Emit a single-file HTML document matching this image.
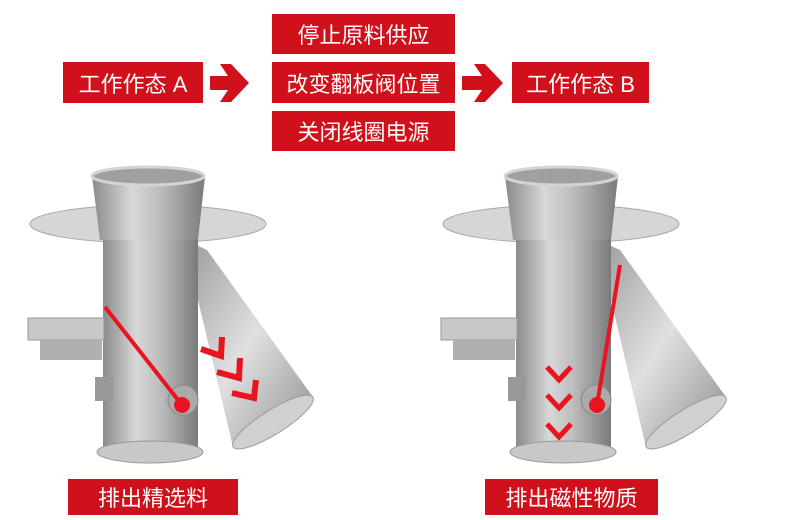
<!DOCTYPE html>
<html><head><meta charset="utf-8"><style>
html,body{margin:0;padding:0;background:#fff;width:800px;height:520px;overflow:hidden}
.b{position:absolute;background:#d0111b;color:#fff;font-family:"Liberation Sans","Noto Sans CJK SC",sans-serif;font-size:22px;display:flex;align-items:center;justify-content:center;white-space:nowrap}
svg{position:absolute;left:0;top:0}
</style></head><body>
<svg width="800" height="520" viewBox="0 0 800 520">
<defs>
<linearGradient id="g" x1="0" x2="1" y1="0" y2="0">
<stop offset="0" stop-color="#8a8a8a"/><stop offset="0.35" stop-color="#d8d8d8"/><stop offset="0.6" stop-color="#bdbdbd"/><stop offset="1" stop-color="#7a7a7a"/></linearGradient>
<linearGradient id="g2" x1="0" x2="1" y1="0" y2="1">
<stop offset="0" stop-color="#9a9a9a"/><stop offset="0.5" stop-color="#e0e0e0"/><stop offset="1" stop-color="#8e8e8e"/></linearGradient>
<g id="valve">
<ellipse cx="148" cy="224" rx="118" ry="19" fill="#d6d6d6" stroke="#a8a8a8"/>
<path d="M185 240 L207 250 L313 397 L233 447 L198 300 Z" fill="url(#g2)"/>
<ellipse cx="273" cy="422" rx="47" ry="12" transform="rotate(-32 273 422)" fill="#d0d0d0" stroke="#9a9a9a"/>
<rect x="103" y="235" width="95" height="212" fill="url(#g)"/>
<ellipse cx="150" cy="452" rx="53" ry="11" fill="#c8c8c8" stroke="#999"/>
<path d="M92 176 L205 176 L198 240 L100 240 Z" fill="url(#g)"/>
<ellipse cx="148" cy="176" rx="56" ry="9" fill="#a0a0a0" stroke="#d4d4d4" stroke-width="3"/>
<rect x="28" y="318" width="76" height="22" fill="#c8c8c8" stroke="#999"/>
<rect x="40" y="340" width="62" height="20" fill="#b0b0b0"/>
<rect x="95" y="377" width="18" height="24" fill="#999"/>
<circle cx="183" cy="400" r="15" fill="#aaa" stroke="#888"/>
</g>
<polyline id="ch" points="-12,-7 0,6 12,-7" fill="none" stroke="#e8141f" stroke-width="5"/>
</defs>
<use href="#valve"/>
<use href="#valve" transform="translate(413 0)"/>
<g stroke="#e8141f" stroke-width="4" fill="none">
<line x1="105" y1="307" x2="182" y2="405"/>
<line x1="620" y1="265" x2="597" y2="405"/>
</g>
<circle cx="182" cy="405" r="8" fill="#e8141f"/>
<circle cx="597" cy="405" r="8" fill="#e8141f"/>
<g stroke="#e8141f" stroke-width="6" fill="none">
<polyline points="201,349 221,356 222,337"/>
<polyline points="217,372 239,378 240,358"/>
<polyline points="232,393 254,398 256,380"/>
</g>
<use href="#ch" transform="translate(559 374)"/>
<use href="#ch" transform="translate(559 402)"/>
<use href="#ch" transform="translate(559 431)"/>
<g fill="#d0111b">
<path d="M210 76 L228 76 L220 64 L231 64 L249 83 L231 102 L220 102 L228 90 L210 90 Z"/>
<path d="M462 76 L482 76 L474 64 L485 64 L503 83 L485 102 L474 102 L482 90 L462 90 Z"/>
</g>
</svg>
<div class="b" style="left:63px;top:62px;width:140px;height:41px">工作作态 A</div>
<div class="b" style="left:272px;top:14px;width:183px;height:40px">停止原料供应</div>
<div class="b" style="left:272px;top:62px;width:183px;height:41px">改变翻板阀位置</div>
<div class="b" style="left:272px;top:111px;width:183px;height:40px">关闭线圈电源</div>
<div class="b" style="left:512px;top:62px;width:137px;height:41px">工作作态 B</div>
<div class="b" style="left:68px;top:479px;width:170px;height:36px">排出精选料</div>
<div class="b" style="left:485px;top:479px;width:173px;height:36px">排出磁性物质</div>
</body></html>
